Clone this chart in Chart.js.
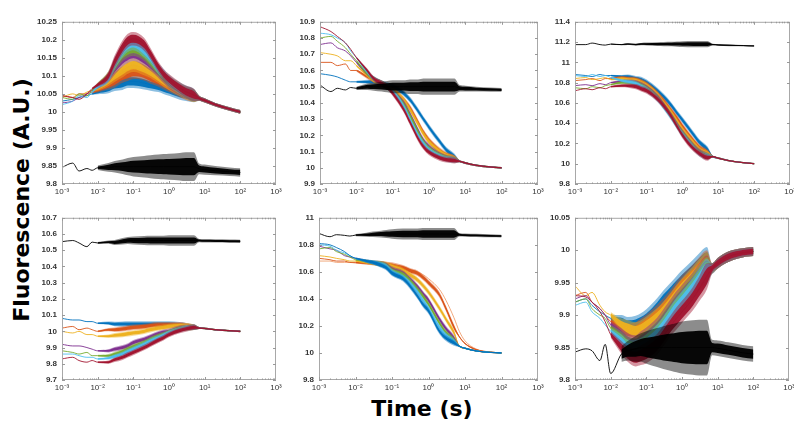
<!DOCTYPE html>
<html>
<head>
<meta charset="utf-8">
<script src="https://cdn.jsdelivr.net/npm/chart.js@4.4.1/dist/chart.umd.min.js"></script>
<style>
  body { margin: 0; background: #fff; width: 794px; height: 422px; position: relative; overflow: hidden; }
  .panel { position: absolute; }
  .axis-title { position: absolute; font-family: 'DejaVu Sans', Verdana, sans-serif; font-weight: bold; font-size: 22px; line-height: 26px; color: #000; text-align: center; white-space: nowrap; }
  #ytitle { left: -128px; top: 187px; width: 300px; transform: rotate(-90deg); }
  #xtitle { left: 322px; top: 396px; width: 200px; }
</style>
</head>
<body>
<div class="axis-title" id="ytitle">Fluorescence (A.U.)</div>
<div class="axis-title" id="xtitle">Time (s)</div>

<script>
// sampling times (s), shared by every trace
const T = [0.001, 0.002, 0.003, 0.005, 0.007, 0.01, 0.02, 0.03, 0.05, 0.07, 0.1, 0.2, 0.3, 0.5, 0.7, 1, 2, 3, 5, 7, 10, 20, 50, 100];

const XTICKS = [1e-3, 1e-2, 1e-1, 1, 10, 100, 1000];
const XLABELS = ['10⁻³', '10⁻²', '10⁻¹', '10⁰', '10¹', '10²', '10³'];

// --- panel 1 (top left) ---
const p1YTicks = [9.8, 9.85, 9.9, 9.95, 10, 10.05, 10.1, 10.15, 10.2, 10.25];
const p1Blue   = [10.03, 10.035, 10.04, 10.045, 10.05, 10.055, 10.065, 10.075, 10.08, 10.085, 10.085, 10.08, 10.075, 10.07, 10.065, 10.06, 10.05, 10.047, 10.044];
const p1Orange = [10.045, 10.04, 10.05, 10.05, 10.055, 10.06, 10.075, 10.085, 10.1, 10.105, 10.11, 10.105, 10.095, 10.085, 10.078, 10.07, 10.057, 10.05, 10.045];
const p1Yellow = [10.04, 10.05, 10.045, 10.055, 10.06, 10.065, 10.085, 10.1, 10.115, 10.125, 10.13, 10.12, 10.11, 10.095, 10.085, 10.075, 10.06, 10.052, 10.045];
const p1Purple = [10.025, 10.03, 10.04, 10.05, 10.06, 10.07, 10.095, 10.12, 10.145, 10.155, 10.16, 10.145, 10.13, 10.11, 10.095, 10.08, 10.062, 10.054, 10.046];
const p1Green  = [10.04, 10.035, 10.05, 10.045, 10.06, 10.075, 10.1, 10.13, 10.16, 10.17, 10.175, 10.16, 10.14, 10.115, 10.1, 10.085, 10.065, 10.055, 10.046];
const p1Cyan   = [10.02, 10.03, 10.045, 10.04, 10.055, 10.07, 10.095, 10.135, 10.17, 10.185, 10.19, 10.17, 10.15, 10.12, 10.105, 10.088, 10.066, 10.056, 10.047];
const p1Red    = [10.045, 10.04, 10.035, 10.05, 10.065, 10.075, 10.1, 10.14, 10.18, 10.198, 10.203, 10.188, 10.162, 10.125, 10.105, 10.09, 10.067, 10.056, 10.047];
const p1Tail   = [10.038, 10.032, 10.02, 10.008, 10.0];
const p1Noise  = [0, 0, 0, 0, 0.003, 0.006, 0.013, 0.017, 0.019, 0.019, 0.019, 0.018, 0.016, 0.015, 0.015, 0.015, 0.016, 0.017, 0.017, 0.007, 0.006, 0.005, 0.005, 0.005];
const p1Black  = [9.846, 9.858, 9.836, 9.843, 9.838, 9.845, 9.846, 9.848, 9.848, 9.848, 9.848, 9.848, 9.848, 9.848, 9.848, 9.848, 9.848, 9.848, 9.848, 9.842, 9.84, 9.837, 9.834, 9.832];
const p1BlackNoise = [0, 0, 0, 0, 0, 0.006, 0.012, 0.016, 0.02, 0.024, 0.027, 0.03, 0.032, 0.034, 0.035, 0.036, 0.038, 0.04, 0.04, 0.015, 0.014, 0.013, 0.012, 0.012];

// --- panel 2 (top middle) ---
const p2YTicks = [9.9, 10, 10.1, 10.2, 10.3, 10.4, 10.5, 10.6, 10.7, 10.8, 10.9];
const p2Blue   = [10.58, 10.57, 10.56, 10.54, 10.53, 10.53, 10.53, 10.53, 10.52, 10.51, 10.5, 10.46, 10.42, 10.35, 10.3, 10.25, 10.16, 10.11, 10.07];
const p2Orange = [10.65, 10.65, 10.63, 10.64, 10.6, 10.6, 10.56, 10.54, 10.52, 10.5, 10.48, 10.42, 10.37, 10.28, 10.22, 10.17, 10.105, 10.08, 10.06];
const p2Yellow = [10.71, 10.7, 10.69, 10.66, 10.66, 10.63, 10.57, 10.54, 10.52, 10.5, 10.48, 10.42, 10.36, 10.27, 10.21, 10.16, 10.1, 10.075, 10.058];
const p2Purple = [10.76, 10.77, 10.74, 10.72, 10.69, 10.65, 10.58, 10.55, 10.52, 10.5, 10.47, 10.4, 10.33, 10.23, 10.17, 10.13, 10.08, 10.063, 10.052];
const p2Green  = [10.8, 10.81, 10.78, 10.74, 10.7, 10.66, 10.58, 10.55, 10.52, 10.5, 10.47, 10.39, 10.32, 10.22, 10.16, 10.12, 10.075, 10.06, 10.05];
const p2Cyan   = [10.83, 10.82, 10.8, 10.77, 10.72, 10.68, 10.59, 10.55, 10.52, 10.5, 10.47, 10.38, 10.3, 10.2, 10.15, 10.11, 10.07, 10.055, 10.047];
const p2Red    = [10.87, 10.84, 10.81, 10.77, 10.73, 10.68, 10.6, 10.55, 10.52, 10.5, 10.46, 10.36, 10.28, 10.18, 10.13, 10.095, 10.06, 10.05, 10.045];
const p2Tail   = [10.04, 10.03, 10.015, 10.005, 10.0];
const p2Noise  = [0, 0, 0, 0, 0, 0.006, 0.012, 0.015, 0.018, 0.018, 0.018, 0.018, 0.018, 0.018, 0.018, 0.018, 0.018, 0.018, 0.018, 0.006, 0.006, 0.005, 0.005, 0.005];
const p2Black  = [10.51, 10.47, 10.49, 10.48, 10.495, 10.49, 10.5, 10.5, 10.5, 10.5, 10.5, 10.5, 10.5, 10.5, 10.5, 10.5, 10.5, 10.5, 10.5, 10.49, 10.488, 10.485, 10.482, 10.48];
const p2BlackNoise = [0, 0, 0, 0, 0, 0.01, 0.02, 0.025, 0.03, 0.035, 0.04, 0.04, 0.045, 0.045, 0.05, 0.05, 0.05, 0.05, 0.05, 0.02, 0.018, 0.015, 0.013, 0.012];

// --- panel 3 (top right) ---
const p3YTicks = [9.8, 10, 10.2, 10.4, 10.6, 10.8, 11, 11.2, 11.4];
const p3Blue   = [10.88, 10.87, 10.86, 10.88, 10.87, 10.87, 10.86, 10.86, 10.84, 10.83, 10.8, 10.72, 10.66, 10.57, 10.5, 10.43, 10.29, 10.21, 10.14];
const p3Orange = [10.82, 10.83, 10.84, 10.82, 10.84, 10.84, 10.85, 10.84, 10.83, 10.81, 10.78, 10.69, 10.62, 10.52, 10.45, 10.37, 10.23, 10.16, 10.11];
const p3Yellow = [10.84, 10.85, 10.83, 10.84, 10.85, 10.83, 10.84, 10.83, 10.82, 10.8, 10.77, 10.68, 10.6, 10.5, 10.42, 10.34, 10.21, 10.14, 10.1];
const p3Purple = [10.77, 10.78, 10.77, 10.79, 10.78, 10.8, 10.81, 10.81, 10.8, 10.78, 10.75, 10.66, 10.58, 10.47, 10.39, 10.31, 10.18, 10.12, 10.08];
const p3Green  = [10.75, 10.74, 10.76, 10.75, 10.77, 10.78, 10.8, 10.8, 10.79, 10.77, 10.74, 10.65, 10.57, 10.46, 10.38, 10.3, 10.17, 10.11, 10.075];
const p3Cyan   = [10.87, 10.86, 10.88, 10.86, 10.87, 10.85, 10.82, 10.81, 10.79, 10.76, 10.73, 10.64, 10.56, 10.45, 10.37, 10.29, 10.16, 10.1, 10.07];
const p3Red    = [10.72, 10.74, 10.73, 10.75, 10.74, 10.76, 10.77, 10.77, 10.76, 10.74, 10.72, 10.64, 10.57, 10.46, 10.37, 10.28, 10.15, 10.1, 10.06];
const p3Tail   = [10.07, 10.055, 10.03, 10.01, 10.0];
const p3Noise  = [0, 0, 0, 0, 0, 0.008, 0.016, 0.02, 0.026, 0.028, 0.03, 0.03, 0.03, 0.03, 0.03, 0.03, 0.03, 0.03, 0.03, 0.009, 0.008, 0.007, 0.006, 0.006];
const p3Black  = [11.175, 11.175, 11.19, 11.175, 11.17, 11.18, 11.175, 11.18, 11.175, 11.18, 11.18, 11.18, 11.18, 11.18, 11.18, 11.18, 11.18, 11.18, 11.18, 11.175, 11.172, 11.168, 11.165, 11.162];
const p3BlackNoise = [0, 0, 0, 0, 0, 0.004, 0.006, 0.008, 0.01, 0.012, 0.015, 0.018, 0.02, 0.022, 0.025, 0.028, 0.03, 0.03, 0.03, 0.008, 0.008, 0.008, 0.007, 0.007];

// --- panel 4 (bottom left) ---
const p4YTicks = [9.7, 9.8, 9.9, 10, 10.1, 10.2, 10.3, 10.4, 10.5, 10.6, 10.7];
const p4Blue   = [10.08, 10.07, 10.07, 10.06, 10.06, 10.05, 10.05, 10.045, 10.045, 10.045, 10.045, 10.045, 10.045, 10.045, 10.045, 10.045, 10.04, 10.035, 10.025];
const p4Orange = [10.02, 10.03, 10.01, 10.02, 10.01, 10.0, 10.01, 10.01, 10.015, 10.02, 10.025, 10.03, 10.035, 10.04, 10.04, 10.04, 10.04, 10.035, 10.025];
const p4Yellow = [10.0, 9.99, 10.0, 9.98, 9.98, 9.97, 9.97, 9.975, 9.98, 9.985, 9.99, 10.0, 10.01, 10.02, 10.025, 10.03, 10.035, 10.035, 10.025];
const p4Purple = [9.92, 9.91, 9.91, 9.9, 9.89, 9.88, 9.88, 9.89, 9.9, 9.91, 9.93, 9.95, 9.965, 9.985, 9.995, 10.0, 10.02, 10.025, 10.025];
const p4Green  = [9.88, 9.87, 9.86, 9.87, 9.85, 9.85, 9.85, 9.86, 9.875, 9.89, 9.905, 9.93, 9.95, 9.97, 9.98, 9.995, 10.015, 10.02, 10.025];
const p4Cyan   = [9.86, 9.86, 9.85, 9.84, 9.84, 9.83, 9.835, 9.845, 9.86, 9.875, 9.89, 9.92, 9.94, 9.96, 9.975, 9.99, 10.01, 10.02, 10.025];
const p4Red    = [9.83, 9.84, 9.82, 9.81, 9.82, 9.81, 9.81, 9.825, 9.84, 9.855, 9.87, 9.9, 9.92, 9.945, 9.96, 9.98, 10.005, 10.015, 10.025];
const p4Tail   = [10.02, 10.018, 10.01, 10.004, 10.0];
const p4Noise  = [0, 0, 0, 0, 0, 0.005, 0.01, 0.014, 0.016, 0.017, 0.017, 0.017, 0.017, 0.017, 0.017, 0.017, 0.017, 0.017, 0.017, 0.006, 0.005, 0.005, 0.005, 0.005];
const p4Black  = [10.553, 10.56, 10.545, 10.522, 10.55, 10.545, 10.55, 10.548, 10.555, 10.56, 10.56, 10.56, 10.56, 10.56, 10.56, 10.56, 10.56, 10.56, 10.56, 10.56, 10.558, 10.557, 10.556, 10.555];
const p4BlackNoise = [0, 0, 0, 0, 0, 0.006, 0.01, 0.015, 0.02, 0.022, 0.025, 0.028, 0.03, 0.03, 0.03, 0.032, 0.032, 0.032, 0.032, 0.01, 0.01, 0.01, 0.01, 0.01];

// --- panel 5 (bottom middle) ---
const p5YTicks = [9.8, 10, 10.2, 10.4, 10.6, 10.8, 11];
const p5Blue   = [10.81, 10.8, 10.78, 10.75, 10.72, 10.7, 10.68, 10.67, 10.65, 10.63, 10.59, 10.55, 10.5, 10.42, 10.36, 10.31, 10.16, 10.11, 10.075];
const p5Cyan   = [10.8, 10.79, 10.76, 10.74, 10.72, 10.7, 10.68, 10.67, 10.655, 10.64, 10.6, 10.56, 10.52, 10.45, 10.39, 10.33, 10.19, 10.13, 10.085];
const p5Green  = [10.77, 10.78, 10.75, 10.73, 10.71, 10.69, 10.68, 10.67, 10.66, 10.645, 10.61, 10.58, 10.54, 10.47, 10.42, 10.36, 10.22, 10.15, 10.095];
const p5Purple = [10.79, 10.77, 10.76, 10.72, 10.71, 10.7, 10.68, 10.67, 10.66, 10.65, 10.62, 10.59, 10.55, 10.49, 10.44, 10.39, 10.25, 10.18, 10.11];
const p5Yellow = [10.72, 10.71, 10.7, 10.69, 10.68, 10.68, 10.67, 10.665, 10.66, 10.655, 10.64, 10.61, 10.58, 10.54, 10.5, 10.45, 10.33, 10.25, 10.15];
const p5Orange = [10.7, 10.69, 10.68, 10.68, 10.67, 10.67, 10.665, 10.665, 10.66, 10.655, 10.65, 10.63, 10.61, 10.59, 10.56, 10.52, 10.43, 10.33, 10.19, 10.12, 10.07, 10.025, 10.006, 10.0];
const p5Peach  = [10.68, 10.68, 10.67, 10.67, 10.67, 10.665, 10.66, 10.66, 10.66, 10.655, 10.65, 10.64, 10.62, 10.6, 10.58, 10.55, 10.47, 10.39, 10.26, 10.16, 10.09, 10.03, 10.007, 10.0];
const p5Tail   = [10.05, 10.035, 10.015, 10.004, 10.0];
const p5Noise  = [0, 0, 0, 0, 0, 0.006, 0.012, 0.016, 0.02, 0.02, 0.021, 0.021, 0.021, 0.021, 0.021, 0.021, 0.021, 0.021, 0.021, 0.006, 0.005, 0.005, 0.005, 0.005];
const p5Black  = [10.884, 10.86, 10.875, 10.87, 10.865, 10.872, 10.875, 10.878, 10.88, 10.88, 10.88, 10.88, 10.88, 10.88, 10.88, 10.88, 10.88, 10.88, 10.88, 10.875, 10.872, 10.87, 10.867, 10.865];
const p5BlackNoise = [0, 0, 0, 0, 0, 0.008, 0.015, 0.02, 0.025, 0.03, 0.035, 0.04, 0.04, 0.04, 0.045, 0.045, 0.045, 0.045, 0.045, 0.013, 0.012, 0.012, 0.011, 0.01];

// --- panel 6 (bottom right) ---
const p6YTicks = [9.8, 9.85, 9.9, 9.95, 10, 10.05];
const p6Blue   = [9.92, 9.925, 9.915, 9.905, 9.9, 9.895, 9.89, 9.885, 9.885, 9.888, 9.893, 9.91, 9.922, 9.935, 9.943, 9.952, 9.967, 9.976, 9.985];
const p6Orange = [9.93, 9.935, 9.92, 9.91, 9.9, 9.89, 9.88, 9.875, 9.875, 9.88, 9.885, 9.9, 9.91, 9.925, 9.935, 9.945, 9.96, 9.97, 9.98];
const p6Yellow = [9.945, 9.93, 9.935, 9.915, 9.905, 9.9, 9.885, 9.88, 9.875, 9.877, 9.882, 9.895, 9.905, 9.92, 9.93, 9.94, 9.957, 9.967, 9.977];
const p6Purple = [9.925, 9.93, 9.92, 9.91, 9.9, 9.885, 9.87, 9.86, 9.855, 9.86, 9.865, 9.88, 9.893, 9.91, 9.92, 9.93, 9.948, 9.96, 9.972];
const p6Green  = [9.92, 9.925, 9.91, 9.9, 9.895, 9.88, 9.865, 9.855, 9.85, 9.855, 9.86, 9.875, 9.888, 9.905, 9.915, 9.925, 9.945, 9.957, 9.97];
const p6Cyan   = [9.915, 9.92, 9.905, 9.895, 9.885, 9.875, 9.86, 9.85, 9.848, 9.85, 9.855, 9.87, 9.882, 9.9, 9.91, 9.92, 9.94, 9.953, 9.967];
const p6Red    = [9.93, 9.928, 9.92, 9.905, 9.89, 9.87, 9.85, 9.84, 9.835, 9.838, 9.842, 9.855, 9.868, 9.885, 9.895, 9.905, 9.925, 9.94, 9.96];
const p6Tail   = [9.972, 9.98, 9.99, 9.996, 9.998];
const p6Noise  = [0, 0, 0, 0, 0, 0.005, 0.01, 0.012, 0.014, 0.015, 0.016, 0.016, 0.016, 0.016, 0.017, 0.017, 0.018, 0.019, 0.02, 0.008, 0.008, 0.008, 0.007, 0.007];
const p6Black  = [9.843, 9.848, 9.845, 9.83, 9.855, 9.81, 9.84, 9.845, 9.848, 9.85, 9.85, 9.85, 9.85, 9.85, 9.85, 9.85, 9.85, 9.85, 9.85, 9.85, 9.849, 9.846, 9.842, 9.84];
const p6BlackNoise = [0, 0, 0, 0, 0, 0, 0.012, 0.015, 0.02, 0.022, 0.025, 0.03, 0.033, 0.036, 0.038, 0.04, 0.042, 0.043, 0.043, 0.012, 0.012, 0.012, 0.012, 0.012];

// matlab default line colours
const C = {
    blue: '#0072BD', orange: '#D95319', yellow: '#EDB120', purple: '#7E2F8E',
    green: '#77AC30', cyan: '#4DBEEE', red: '#A2142F', peach: '#F0A070', black: '#000000',
};

// plot area of each panel on the page: left, top, width, height
const panels = [
    { box: [62, 18, 214, 166], yTicks: p1YTicks, tail: p1Tail, noise: p1Noise, black: p1Black, blackNoise: p1BlackNoise,
      traces: [[p1Blue, 'blue'], [p1Orange, 'orange'], [p1Yellow, 'yellow'], [p1Purple, 'purple'], [p1Green, 'green'], [p1Cyan, 'cyan'], [p1Red, 'red']] },
    { box: [320, 18, 218, 166], yTicks: p2YTicks, tail: p2Tail, noise: p2Noise, black: p2Black, blackNoise: p2BlackNoise,
      traces: [[p2Blue, 'blue'], [p2Orange, 'orange'], [p2Yellow, 'yellow'], [p2Purple, 'purple'], [p2Green, 'green'], [p2Cyan, 'cyan'], [p2Red, 'red']] },
    { box: [575, 18, 215, 166], yTicks: p3YTicks, tail: p3Tail, noise: p3Noise, black: p3Black, blackNoise: p3BlackNoise,
      traces: [[p3Blue, 'blue'], [p3Orange, 'orange'], [p3Yellow, 'yellow'], [p3Purple, 'purple'], [p3Green, 'green'], [p3Cyan, 'cyan'], [p3Red, 'red']] },
    { box: [62, 214, 214, 166], yTicks: p4YTicks, tail: p4Tail, noise: p4Noise, black: p4Black, blackNoise: p4BlackNoise,
      traces: [[p4Blue, 'blue'], [p4Orange, 'orange'], [p4Yellow, 'yellow'], [p4Purple, 'purple'], [p4Green, 'green'], [p4Cyan, 'cyan'], [p4Red, 'red']] },
    { box: [319, 214, 219, 166], yTicks: p5YTicks, tail: p5Tail, noise: p5Noise, black: p5Black, blackNoise: p5BlackNoise,
      traces: [[p5Peach, 'peach', true], [p5Orange, 'orange'], [p5Yellow, 'yellow'], [p5Purple, 'purple'], [p5Green, 'green'], [p5Cyan, 'cyan'], [p5Blue, 'blue']] },
    { box: [575, 214, 214, 166], yTicks: p6YTicks, tail: p6Tail, noise: p6Noise, black: p6Black, blackNoise: p6BlackNoise,
      traces: [[p6Blue, 'blue'], [p6Orange, 'orange'], [p6Yellow, 'yellow'], [p6Purple, 'purple'], [p6Green, 'green'], [p6Cyan, 'cyan'], [p6Red, 'red']] },
];

const Y_AXIS_W = 40;
const X_AXIS_H = 18;
const PAD_TOP = 6;
const PAD_RIGHT = 10;

Chart.defaults.font.family = "'Liberation Sans', Arial, sans-serif";

function fade(hex, a) {
    const n = parseInt(hex.slice(1), 16);
    return `rgba(${n >> 16},${(n >> 8) & 255},${n & 255},${a})`;
}

// band between values-k*noise and values+k*noise
function bandSets(values, noise, k, color) {
    const edge = (sign) => T.map((t, i) => ({ x: t, y: noise[i] > 0 ? values[i] + sign * k * noise[i] : null }));
    return [
        { data: edge(1), borderColor: 'rgba(0,0,0,0)', borderWidth: 0, pointRadius: 0, fill: false },
        { data: edge(-1), borderColor: 'rgba(0,0,0,0)', borderWidth: 0, pointRadius: 0, fill: '-1', backgroundColor: color },
    ];
}

// noisy part of a trace: a faint outer band with a solid core,
// then the trace itself as a thin line on top
function traceSets(values, noise, color, thinOnly) {
    const sets = [];
    if (!thinOnly) {
        sets.push(...bandSets(values, noise, 1, fade(color, 0.45)));
        sets.push(...bandSets(values, noise, 0.6, fade(color, 0.95)));
    }
    sets.push({
        data: T.map((t, i) => ({ x: t, y: values[i] })),
        borderColor: color, borderWidth: 0.9, pointRadius: 0, fill: false,
    });
    return sets;
}

// matlab-like box with inward ticks
const framePlugin = {
    id: 'frame',
    afterDraw(chart) {
        const { ctx, chartArea: a, scales } = chart;
        ctx.save();
        ctx.strokeStyle = '#a8a8a8';
        ctx.lineWidth = 1;
        ctx.strokeRect(a.left + 0.5, a.top + 0.5, a.right - a.left - 1, a.bottom - a.top - 1);
        ctx.strokeStyle = '#999';
        ctx.beginPath();
        for (let e = -3; e < 3; e++) {
            for (let m = 1; m <= 9; m++) {
                const x = Math.round(scales.x.getPixelForValue(m * Math.pow(10, e))) + 0.5;
                const len = m === 1 ? 3 : 1.5;
                ctx.moveTo(x, a.bottom); ctx.lineTo(x, a.bottom - len);
                ctx.moveTo(x, a.top); ctx.lineTo(x, a.top + len);
            }
        }
        scales.y.ticks.forEach((t) => {
            const y = Math.round(scales.y.getPixelForValue(t.value)) + 0.5;
            ctx.moveTo(a.left, y); ctx.lineTo(a.left + 3, y);
            ctx.moveTo(a.right, y); ctx.lineTo(a.right - 3, y);
        });
        ctx.stroke();
        ctx.restore();
    },
};

panels.forEach((p, n) => {
    const [left, top, w, h] = p.box;
    const div = document.createElement('div');
    div.className = 'panel';
    div.style.left = (left - Y_AXIS_W) + 'px';
    div.style.top = (top - PAD_TOP) + 'px';
    div.style.width = (Y_AXIS_W + w + PAD_RIGHT) + 'px';
    div.style.height = (PAD_TOP + h + X_AXIS_H) + 'px';
    const canvas = document.createElement('canvas');
    canvas.id = 'panel' + (n + 1);
    div.appendChild(canvas);
    document.body.appendChild(div);

    const datasets = [];
    p.traces.forEach(([vals, col, thinOnly]) => {
        const full = vals.length === T.length ? vals : vals.concat(p.tail);
        datasets.push(...traceSets(full, p.noise, C[col], thinOnly));
    });
    datasets.push(...traceSets(p.black, p.blackNoise, C.black, false));

    // first dataset in the list is painted first (bottom)
    datasets.forEach((d, i) => {
        d.order = 1000 - i;
        d.cubicInterpolationMode = 'monotone';
    });

    new Chart(canvas, {
        type: 'line',
        data: { datasets },
        plugins: [framePlugin],
        options: {
            responsive: true,
            maintainAspectRatio: false,
            animation: false,
            events: [],
            layout: { autoPadding: false, padding: { top: PAD_TOP, right: PAD_RIGHT, left: 0, bottom: 0 } },
            plugins: { legend: { display: false }, tooltip: { enabled: false } },
            scales: {
                x: {
                    type: 'logarithmic',
                    min: 1e-3,
                    max: 1e3,
                    grid: { display: false, drawTicks: false },
                    border: { display: false },
                    afterBuildTicks: (s) => { s.ticks = XTICKS.map((v) => ({ value: v })); },
                    afterFit: (s) => { s.height = X_AXIS_H; },
                    ticks: {
                        autoSkip: false, maxRotation: 0, padding: 3,
                        color: '#333', font: { size: 8 },
                        callback: (v, i) => XLABELS[i],
                    },
                },
                y: {
                    type: 'linear',
                    min: p.yTicks[0],
                    max: p.yTicks[p.yTicks.length - 1],
                    grid: { display: false, drawTicks: false },
                    border: { display: false },
                    afterBuildTicks: (s) => { s.ticks = p.yTicks.map((v) => ({ value: v })); },
                    afterFit: (s) => { s.width = Y_AXIS_W; },
                    ticks: {
                        autoSkip: false, padding: 5,
                        color: '#333', font: { size: 8, weight: 'bold' },
                        callback: (v) => String(v),
                    },
                },
            },
        },
    });
});
</script>
</body>
</html>
